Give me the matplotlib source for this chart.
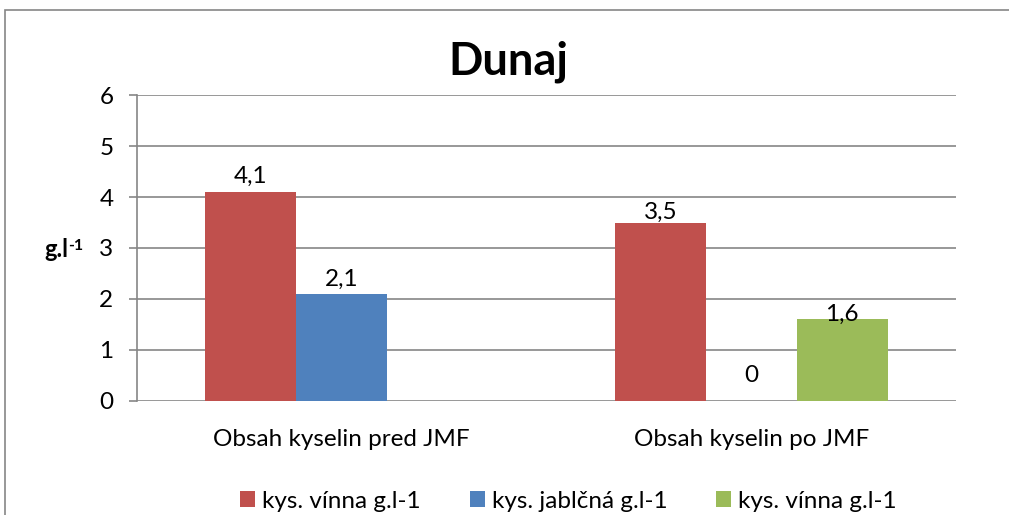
import matplotlib.pyplot as plt
import numpy as np
from matplotlib.patches import Rectangle

plt.rcParams['font.family'] = ['Lato', 'DejaVu Sans']

categories = ['Obsah kyselin pred JMF', 'Obsah kyselin po JMF']
series_names = ['kys. vínna g.l-1', 'kys. jablčná g.l-1', 'kys. vínna g.l-1']
vinna = [4.1, 3.5]
jablcna = [2.1, 0.0]
vinna2 = [np.nan, 1.6]
yticks = [0, 1, 2, 3, 4, 5, 6]

colors = ['#C0504D', '#4F81BD', '#9BBB59']
# label offsets above bar top, in points (as in the original chart)
label_off = [[11.5, 7.2], [10.8, 18.7], [0, 3.6]]

fig = plt.figure(figsize=(10.09, 5.15), dpi=100)
ax = fig.add_axes([0.1358, 0.2214, 0.8117, 0.5941])

fig.patches.append(Rectangle((5 / 1009, -0.05), 1.1, (505 / 515) + 0.05,
                             transform=fig.transFigure, fill=False,
                             edgecolor='#868686', linewidth=1.2, zorder=0))

x = np.arange(len(categories))
w = 0.2222
all_series = [vinna, jablcna, vinna2]
for i, vals in enumerate(all_series):
    pos = x + (i - 1) * w
    ax.bar(pos, vals, width=w, color=colors[i], label=series_names[i], zorder=3)
    for j, v in enumerate(vals):
        if np.isnan(v):
            continue
        txt = ('%g' % v).replace('.', ',')
        ax.annotate(txt, (pos[j], v), xytext=(0, label_off[i][j]),
                    textcoords='offset points', ha='center', va='center',
                    fontsize=17.5, color='black', zorder=4)

ax.set_xlim(-0.5, 1.5)
ax.set_ylim(0, 6)
ax.set_yticks(yticks)
ax.set_xticks(x)
ax.set_xticklabels(categories, fontsize=17.5)
ax.tick_params(axis='x', length=0, pad=20)
ax.tick_params(axis='y', length=6, color='#868686', width=1.2, pad=11, labelsize=17.5)
ax.yaxis.grid(True, color='#868686', linewidth=1.2, zorder=0)
for s in ['top', 'right', 'bottom']:
    ax.spines[s].set_visible(False)
ax.spines['left'].set_color('#868686')
ax.spines['left'].set_linewidth(1.2)

# y axis unit, with a raised "-1"
fig.text(68 / 1009, 1 - 257 / 515, 'g.l', ha='right', va='baseline',
         fontsize=17, fontweight='bold')
fig.text(68.5 / 1009, 1 - 250 / 515, '-1', ha='left', va='baseline',
         fontsize=11.5, fontweight='bold')

fig.text(0.5035, 1 - 62 / 515, 'Dunaj', ha='center', va='center', fontsize=32.5,
         fontweight='bold')

fig.legend(loc='center', bbox_to_anchor=(568.5 / 1009, 14 / 515), ncol=3, frameon=False,
           fontsize=17.5, handlelength=0.62, handleheight=0.62, handletextpad=0.3,
           columnspacing=2.0, borderpad=0, borderaxespad=0)

fig.savefig('out.png', dpi=100)
